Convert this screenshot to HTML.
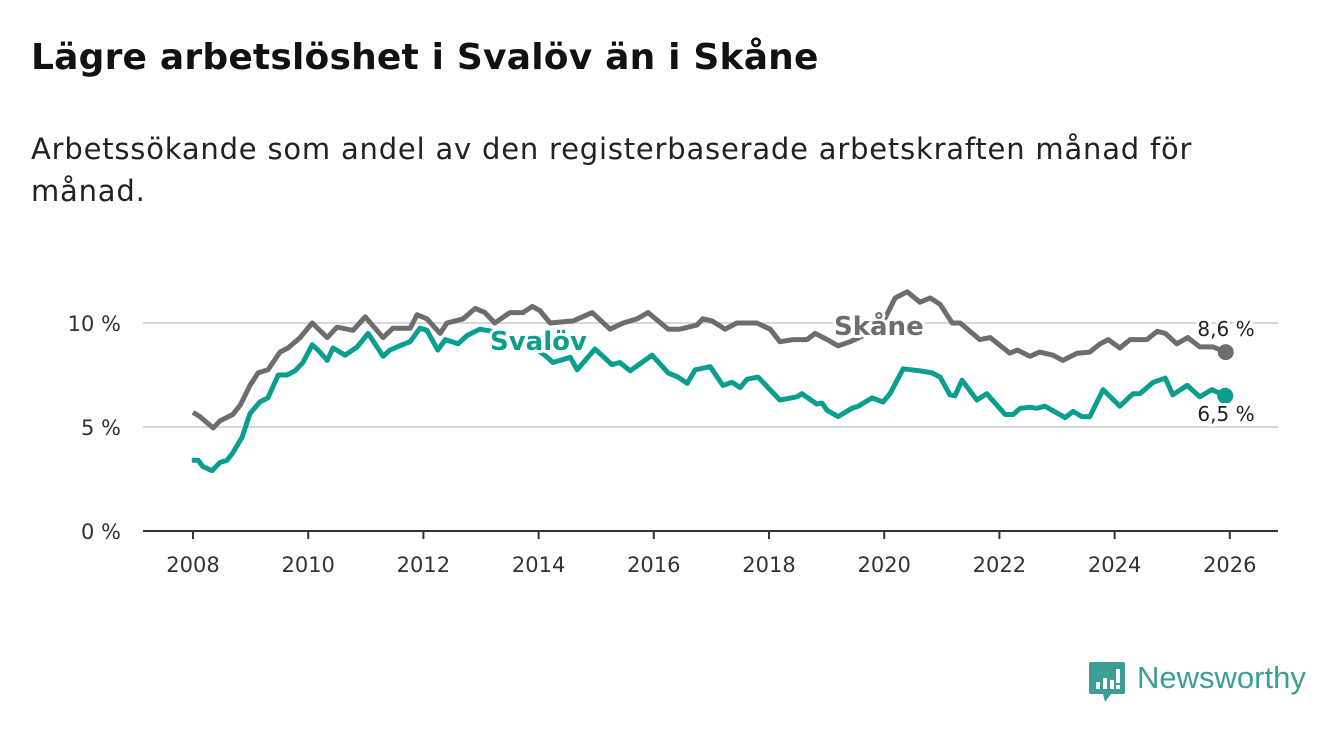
<!DOCTYPE html>
<html><head><meta charset="utf-8">
<style>
body{margin:0;width:1340px;height:734px;background:#fff;font-family:"DejaVu Sans",sans-serif;overflow:hidden;position:relative}
#title{position:absolute;left:31px;top:37px;font-size:36px;font-weight:bold;color:#111;margin:0;letter-spacing:0.2px}
#sub{position:absolute;left:31px;top:128px;font-size:29px;line-height:42px;color:#222;width:1280px;letter-spacing:0.8px}
svg{position:absolute;left:0;top:0}
</style></head><body>
<h1 id="title">Lägre arbetslöshet i Svalöv än i Skåne</h1>
<div id="sub">Arbetssökande som andel av den registerbaserade arbetskraften månad för<br>månad.</div>
<svg id="chart" width="1340" height="734"></svg>
<div style="position:absolute;left:1089px;top:662px;">
<svg width="38" height="42" viewBox="0 0 38 42"><path d="M2 0H34a2 2 0 0 1 2 2V30a2 2 0 0 1-2 2H22L16 40L14 32H2a2 2 0 0 1-2-2V2a2 2 0 0 1 2-2z" fill="#3c9e94"/><rect x="7" y="20" width="4" height="7" fill="#fff"/><rect x="14" y="16" width="4" height="11" fill="#fff"/><rect x="21" y="18" width="4" height="9" fill="#fff"/><rect x="27" y="7" width="4" height="14" fill="#fff"/><rect x="27" y="23" width="4" height="4" fill="#fff"/></svg>
<span style="position:absolute;left:48px;top:-2px;font-size:31px;color:#3c9e94;white-space:nowrap;font-family:'Liberation Sans',sans-serif">Newsworthy</span>
</div>
<script>
const skaneYears=[2008.0,2008.12,2008.35,2008.47,2008.69,2008.82,2008.99,2009.13,2009.3,2009.51,2009.65,2009.86,2010.07,2010.33,2010.5,2010.78,2010.99,2011.3,2011.47,2011.77,2011.89,2012.06,2012.29,2012.41,2012.69,2012.9,2013.07,2013.24,2013.5,2013.73,2013.89,2014.02,2014.2,2014.6,2014.93,2015.24,2015.47,2015.71,2015.9,2016.25,2016.45,2016.75,2016.85,2017.01,2017.24,2017.44,2017.79,2018.02,2018.19,2018.42,2018.66,2018.8,2019.01,2019.2,2019.41,2019.72,2020.01,2020.19,2020.4,2020.62,2020.8,2020.97,2021.18,2021.32,2021.66,2021.84,2022.18,2022.31,2022.53,2022.7,2022.93,2023.1,2023.35,2023.57,2023.75,2023.89,2024.09,2024.27,2024.56,2024.74,2024.88,2025.08,2025.27,2025.48,2025.71,2025.93];
const skaneValues=[5.7,5.5,4.95,5.3,5.6,6.05,7.0,7.6,7.75,8.6,8.8,9.3,10.0,9.3,9.8,9.65,10.3,9.3,9.75,9.75,10.4,10.2,9.5,10.0,10.2,10.7,10.5,10.0,10.5,10.5,10.8,10.6,10.0,10.1,10.5,9.7,10.0,10.2,10.5,9.7,9.7,9.9,10.2,10.1,9.7,10.0,10.0,9.7,9.1,9.2,9.2,9.5,9.2,8.9,9.1,9.5,10.2,11.2,11.5,11.0,11.2,10.9,10.0,10.0,9.2,9.3,8.55,8.7,8.4,8.6,8.45,8.2,8.55,8.6,9.0,9.2,8.8,9.2,9.2,9.6,9.5,9.0,9.3,8.85,8.85,8.6];
const svalovYears=[2007.98,2008.09,2008.17,2008.33,2008.47,2008.59,2008.69,2008.85,2008.99,2009.16,2009.3,2009.48,2009.63,2009.77,2009.91,2010.07,2010.17,2010.33,2010.43,2010.64,2010.85,2011.04,2011.3,2011.42,2011.63,2011.77,2011.94,2012.06,2012.25,2012.38,2012.6,2012.76,2012.98,2013.1,2013.5,2013.9,2014.15,2014.25,2014.55,2014.67,2014.98,2015.27,2015.41,2015.59,2015.97,2016.25,2016.42,2016.58,2016.72,2016.98,2017.2,2017.36,2017.5,2017.62,2017.81,2018.19,2018.49,2018.57,2018.83,2018.92,2019.01,2019.2,2019.44,2019.55,2019.79,2019.98,2020.1,2020.33,2020.62,2020.83,2020.97,2021.14,2021.23,2021.35,2021.61,2021.78,2022.1,2022.24,2022.36,2022.53,2022.65,2022.79,2023.14,2023.28,2023.43,2023.57,2023.8,2024.09,2024.32,2024.44,2024.67,2024.88,2025.01,2025.26,2025.48,2025.69,2025.92];
const svalovValues=[3.4,3.4,3.1,2.9,3.3,3.4,3.75,4.5,5.65,6.2,6.4,7.5,7.5,7.7,8.1,8.95,8.7,8.2,8.8,8.45,8.85,9.5,8.4,8.7,8.95,9.1,9.75,9.65,8.7,9.2,9.0,9.4,9.7,9.65,9.4,8.9,8.35,8.1,8.35,7.75,8.75,8.0,8.1,7.7,8.45,7.6,7.4,7.1,7.75,7.9,7.0,7.15,6.9,7.3,7.4,6.3,6.45,6.6,6.1,6.15,5.8,5.5,5.9,6.0,6.4,6.2,6.6,7.8,7.7,7.6,7.4,6.55,6.5,7.25,6.3,6.6,5.6,5.6,5.9,5.95,5.9,6.0,5.45,5.75,5.5,5.5,6.8,6.0,6.6,6.6,7.15,7.35,6.55,7.0,6.45,6.8,6.5];
const yTicks=[0,5,10];
const yTickLabels=["0 %","5 %","10 %"];
const xTicks=[2008,2010,2012,2014,2016,2018,2020,2022,2024,2026];
const skaneLast="8,6 %", svalovLast="6,5 %";

const NS="http://www.w3.org/2000/svg";
const FONT='DejaVu Sans, sans-serif';
const svg=document.getElementById('chart');
const X=y=>193+(y-2008)*57.6;
const Y=v=>531-v*20.8;
function mk(t,a){const e=document.createElementNS(NS,t);for(const k in a)e.setAttribute(k,a[k]);svg.appendChild(e);return e;}
yTicks.forEach((t,i)=>{
  if(t>0){const g=mk('line',{x1:143,x2:1278,y1:Y(t),y2:Y(t),stroke:'#d9d9d9','stroke-width':2});
  
  }
  const l=mk('text',{x:121,y:Y(t)+8,'text-anchor':'end','font-size':21,fill:'#333','font-family':FONT});
  l.textContent=yTickLabels[i];
  
  
});
const ax=mk('line',{x1:143,x2:1278,y1:Y(0),y2:Y(0),stroke:'#333','stroke-width':2});


xTicks.forEach(t=>{
  const tk=mk('line',{x1:X(t),x2:X(t),y1:Y(0),y2:Y(0)+8,stroke:'#333','stroke-width':2});
  
  
  const l=mk('text',{x:X(t),y:572,'text-anchor':'middle','font-size':21,fill:'#333','font-family':FONT});
  l.textContent=t;
  
  
});
function line(ys,vs,col,name){
  const d=ys.map((y,i)=>(i?'L':'M')+X(y).toFixed(1)+','+Y(vs[i]).toFixed(1)).join('');
  const p=mk('path',{d:d,fill:'none',stroke:col,'stroke-width':5,'stroke-linejoin':'round'});
  
  
  const n=ys.length-1;
  const c=mk('circle',{cx:X(ys[n]),cy:Y(vs[n]),r:8,fill:col});
  
  
}
line(skaneYears,skaneValues,'#6d6c70','skane');
line(svalovYears,svalovValues,'#0a9e8f','svalov');
function lab(x,y,txt,col,name,size,bold,anchor){
  const t=mk('text',{x:x,y:y,'font-size':size,fill:col,'font-weight':bold?'bold':'normal','text-anchor':anchor||'start',stroke:'#fff','stroke-width':6,'paint-order':'stroke','stroke-linejoin':'round','font-family':FONT});
  t.textContent=txt;
  
  
}
lab(834,335,'Skåne','#6d6c70','skane-label',26,true);
lab(490,350,'Svalöv','#0a9e8f','svalov-label',26,true);
lab(1226,336,skaneLast,'#222','skane-value-label',20,false,'middle');
lab(1226,421,svalovLast,'#222','svalov-value-label',20,false,'middle');
</script>
</body></html>
